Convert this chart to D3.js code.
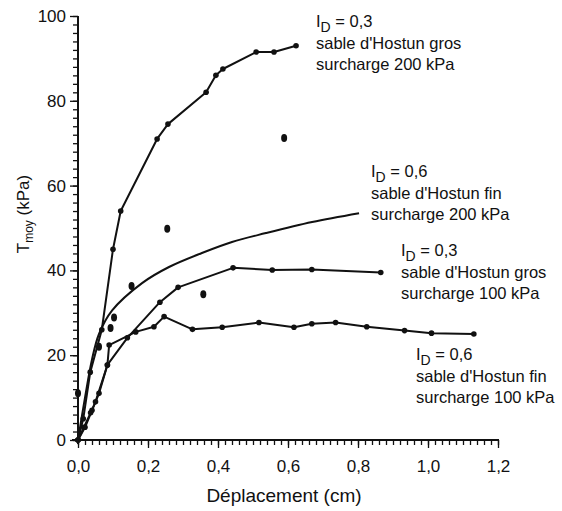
<!DOCTYPE html>
<html><head><meta charset="utf-8">
<script src="https://cdn.jsdelivr.net/npm/d3@7"></script>
<style>
body{margin:0;background:#fff}
svg{display:block}
text{font-family:"Liberation Sans",Arial,sans-serif;fill:#111}
</style>
</head><body>
<svg id="chart" width="562" height="511"></svg>
<script>
// ---- data ----
const xTickValues = [0, 0.2, 0.4, 0.6, 0.8, 1.0, 1.2];
const yTickValues = [0, 20, 40, 60, 80, 100];

// I_D = 0,3 sable d'Hostun gros, surcharge 200 kPa  (line + markers)
const gros200 = [[0,0],[0.015,5],[0.035,16],[0.068,26],[0.1,45],[0.122,54],[0.226,71],[0.257,74.5],[0.366,82],[0.394,86],[0.414,87.5],[0.509,91.5],[0.56,91.5],[0.623,93]];
// I_D = 0,6 sable d'Hostun fin, surcharge 200 kPa  (fitted smooth curve)
const fin200Curve = [[0,0],[0.02,10],[0.04,19],[0.06,25],[0.097,30.5],[0.183,37],[0.26,40.8],[0.354,44.1],[0.44,46.7],[0.537,48.8],[0.669,51.4],[0.803,53.5]];
// measured points of the 0,6 fin 200 kPa test (scattered dots)
const fin200Points = [[0,11],[0.06,22],[0.093,26.4],[0.103,28.9],[0.153,36.3],[0.255,49.8],[0.358,34.4],[0.589,71.2]];
// I_D = 0,3 sable d'Hostun gros, surcharge 100 kPa
const gros100 = [[0,0],[0.02,3],[0.04,7],[0.06,11],[0.084,17.7],[0.141,24.1],[0.234,32.5],[0.286,36],[0.443,40.6],[0.555,40.1],[0.668,40.2],[0.865,39.5]];
// I_D = 0,6 sable d'Hostun fin, surcharge 100 kPa
const fin100 = [[0,0],[0.017,3],[0.036,6.4],[0.05,9],[0.084,17.7],[0.089,22.4],[0.165,25.5],[0.217,26.7],[0.246,29.1],[0.327,26.1],[0.412,26.6],[0.517,27.7],[0.617,26.6],[0.668,27.4],[0.736,27.7],[0.825,26.7],[0.933,25.8],[1.01,25.2],[1.131,25.0]];

const labelTexts = [
  {id:"0,3", sand:"sable d'Hostun gros", load:"surcharge 200 kPa"},
  {id:"0,6", sand:"sable d'Hostun fin",  load:"surcharge 200 kPa"},
  {id:"0,3", sand:"sable d'Hostun gros", load:"surcharge 100 kPa"},
  {id:"0,6", sand:"sable d'Hostun fin",  load:"surcharge 100 kPa"}
];

// ---- layout ----
const svg = d3.select("#chart");
const x = d3.scaleLinear().domain([0, 1.2]).range([78, 498]);
const y = d3.scaleLinear().domain([0, 100]).range([440, 16]);
const fmt = d => d3.format(".1f")(d).replace(".", ",");

// minor ticks
const xMinor = d3.range(0, 1.2001, 0.02);
const yMinor = d3.range(0, 100.01, 2);

const gx = svg.append("g").attr("transform", `translate(0,${y(0)})`);
gx.call(d3.axisBottom(x).tickValues(xMinor).tickSize(5).tickFormat(""))
  .call(g => g.select(".domain").remove());
gx.append("g").call(d3.axisBottom(x).tickValues(xTickValues).tickSize(8).tickFormat(fmt).tickPadding(12))
  .call(g => g.select(".domain").remove())
  .call(g => g.selectAll("text").attr("font-size", 17).attr("font-family", "Liberation Sans, Arial, sans-serif").attr("fill", "#111"));
gx.selectAll("line").attr("stroke", "#111").attr("stroke-width", 1.3);
gx.append("line").attr("x1", 72).attr("x2", x(1.2) + 1).attr("y1", 0).attr("y2", 0)
  .attr("stroke", "#111").attr("stroke-width", 2);

const gy = svg.append("g").attr("transform", `translate(${x(0)},0)`);
gy.call(d3.axisLeft(y).tickValues(yMinor).tickSize(5).tickFormat(""))
  .call(g => g.select(".domain").remove());
gy.append("g").call(d3.axisLeft(y).tickValues(yTickValues).tickSize(8).tickFormat(d3.format("d")).tickPadding(4))
  .call(g => g.select(".domain").remove())
  .call(g => g.selectAll("text").attr("font-size", 17).attr("font-family", "Liberation Sans, Arial, sans-serif").attr("fill", "#111"));
gy.selectAll("line").attr("stroke", "#111").attr("stroke-width", 1.3);
gy.append("line").attr("x1", 0).attr("x2", 0).attr("y1", y(100)).attr("y2", y(0) + 4)
  .attr("stroke", "#111").attr("stroke-width", 2);

// axis titles
svg.append("text").attr("x", 284).attr("y", 502).attr("text-anchor", "middle")
  .attr("font-size", 19).text("Déplacement (cm)");
const yt = svg.append("text").attr("transform", "translate(29,214) rotate(-90)")
  .attr("text-anchor", "middle").attr("font-size", 17);
yt.append("tspan").text("T");
yt.append("tspan").attr("font-size", 12).attr("dy", 4).text("moy");
yt.append("tspan").attr("dy", -4).text(" (kPa)");

// ---- series ----
const line = d3.line().x(d => x(d[0])).y(d => y(d[1]));
const smooth = d3.line().x(d => x(d[0])).y(d => y(d[1])).curve(d3.curveCatmullRom.alpha(0.5));

[gros200, gros100, fin100].forEach(s => {
  svg.append("path").datum(s).attr("d", line)
    .attr("fill", "none").attr("stroke", "#111").attr("stroke-width", 2).attr("stroke-linejoin", "round");
  svg.append("g").selectAll("circle").data(s).join("circle")
    .attr("cx", d => x(d[0])).attr("cy", d => y(d[1])).attr("r", 2.8).attr("fill", "#111");
});

svg.append("path").datum(fin200Curve).attr("d", smooth)
  .attr("fill", "none").attr("stroke", "#111").attr("stroke-width", 2);
svg.append("g").selectAll("ellipse").data(fin200Points).join("ellipse")
  .attr("cx", d => x(d[0])).attr("cy", d => y(d[1])).attr("rx", 3).attr("ry", 4).attr("fill", "#111");

// ---- labels ----
const labelPos = [[316, 27], [371, 177], [401, 256], [416, 360]];
labelTexts.forEach((l, i) => {
  const [lx, ly] = labelPos[i];
  const t = svg.append("text").attr("x", lx).attr("y", ly).attr("font-size", 16.5);
  t.append("tspan").text("I");
  t.append("tspan").attr("font-size", 14).attr("dy", 5).text("D");
  t.append("tspan").attr("dy", -5).text(" = " + l.id);
  svg.append("text").attr("x", lx).attr("y", ly + 22).attr("font-size", 16.5).text(l.sand);
  svg.append("text").attr("x", lx).attr("y", ly + 43).attr("font-size", 16.5).text(l.load);
});
</script>
</body></html>
